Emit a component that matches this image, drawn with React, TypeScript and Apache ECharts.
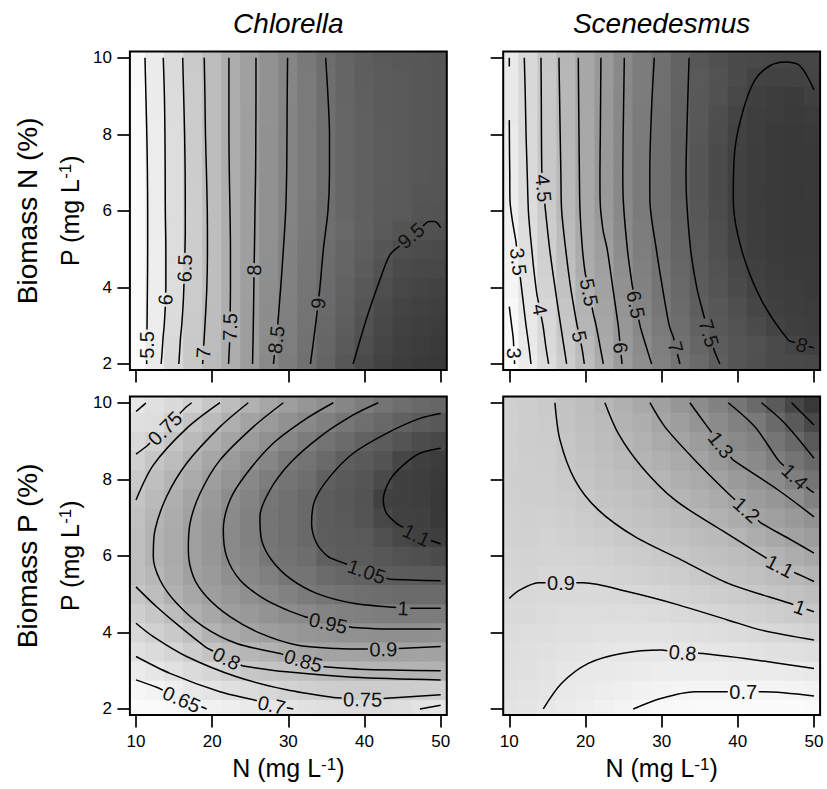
import React, { useEffect, useRef } from "react";
import * as echarts from "echarts";

const FONT = '"Liberation Sans", Arial, Helvetica, sans-serif';

// ---------------- data ----------------
const N_GRID = [10, 12.5, 15, 17.5, 20, 22.5, 25, 27.5, 30, 32.5, 35, 37.5, 40, 42.5, 45, 47.5, 50];
const P_GRID = [2, 2.5, 3, 3.5, 4, 4.5, 5, 5.5, 6, 6.5, 7, 7.5, 8, 8.5, 9, 9.5, 10];
const N_TICKS = [10, 20, 30, 40, 50];
const P_TICKS = [2, 4, 6, 8, 10];
const SPECIES = ["Chlorella", "Scenedesmus"];
const ROW_TITLES = ["Biomass N (%)", "Biomass P (%)"];

// surface values; rows follow P_GRID (2 -> 10), columns follow N_GRID (10 -> 50)
const chlorellaN_grid = [
  [5.27, 5.79, 6.37, 6.8, 7.18, 7.56, 7.95, 8.4, 8.7, 8.96, 9.19, 9.41, 9.61, 9.73, 9.81, 9.85, 9.88],
  [5.28, 5.76, 6.33, 6.78, 7.16, 7.54, 7.94, 8.36, 8.67, 8.93, 9.15, 9.35, 9.55, 9.69, 9.78, 9.82, 9.85],
  [5.29, 5.73, 6.28, 6.75, 7.14, 7.52, 7.93, 8.33, 8.64, 8.89, 9.11, 9.31, 9.5, 9.65, 9.74, 9.79, 9.82],
  [5.29, 5.72, 6.25, 6.72, 7.13, 7.52, 7.93, 8.31, 8.62, 8.87, 9.08, 9.26, 9.44, 9.6, 9.7, 9.75, 9.78],
  [5.29, 5.71, 6.23, 6.7, 7.11, 7.52, 7.92, 8.29, 8.6, 8.84, 9.06, 9.22, 9.39, 9.55, 9.66, 9.7, 9.73],
  [5.29, 5.7, 6.22, 6.69, 7.11, 7.52, 7.92, 8.27, 8.58, 8.82, 9.04, 9.19, 9.34, 9.49, 9.61, 9.64, 9.66],
  [5.29, 5.7, 6.22, 6.68, 7.1, 7.52, 7.91, 8.26, 8.56, 8.8, 9.02, 9.16, 9.29, 9.43, 9.55, 9.58, 9.6],
  [5.28, 5.71, 6.22, 6.68, 7.11, 7.52, 7.91, 8.24, 8.55, 8.78, 9.0, 9.12, 9.23, 9.35, 9.46, 9.51, 9.53],
  [5.28, 5.71, 6.22, 6.68, 7.11, 7.52, 7.91, 8.23, 8.53, 8.76, 8.99, 9.15, 9.26, 9.33, 9.37, 9.46, 9.47],
  [5.28, 5.71, 6.22, 6.68, 7.12, 7.53, 7.9, 8.23, 8.53, 8.75, 8.98, 9.15, 9.26, 9.33, 9.37, 9.43, 9.45],
  [5.29, 5.71, 6.22, 6.69, 7.13, 7.54, 7.9, 8.22, 8.52, 8.74, 8.97, 9.14, 9.25, 9.32, 9.37, 9.41, 9.44],
  [5.29, 5.72, 6.23, 6.7, 7.13, 7.54, 7.9, 8.22, 8.52, 8.74, 8.97, 9.14, 9.25, 9.32, 9.37, 9.41, 9.43],
  [5.3, 5.73, 6.23, 6.7, 7.14, 7.54, 7.9, 8.22, 8.52, 8.74, 8.97, 9.14, 9.25, 9.32, 9.37, 9.41, 9.43],
  [5.31, 5.74, 6.24, 6.71, 7.15, 7.54, 7.9, 8.21, 8.52, 8.74, 8.98, 9.15, 9.26, 9.33, 9.37, 9.41, 9.43],
  [5.31, 5.75, 6.25, 6.72, 7.15, 7.54, 7.89, 8.21, 8.51, 8.75, 8.99, 9.16, 9.27, 9.34, 9.38, 9.41, 9.43],
  [5.32, 5.76, 6.26, 6.73, 7.16, 7.54, 7.89, 8.21, 8.51, 8.75, 9.0, 9.17, 9.28, 9.34, 9.38, 9.41, 9.43],
  [5.33, 5.78, 6.28, 6.74, 7.16, 7.54, 7.89, 8.21, 8.51, 8.76, 9.01, 9.18, 9.29, 9.35, 9.39, 9.41, 9.44],
];
const scenedesmusN_grid = [
  [2.88, 3.42, 3.97, 4.49, 5.03, 5.53, 6.03, 6.35, 6.68, 7.01, 7.25, 7.49, 7.66, 7.77, 7.84, 7.88, 7.91],
  [2.9, 3.49, 4.05, 4.58, 5.11, 5.62, 6.07, 6.44, 6.77, 7.07, 7.33, 7.53, 7.64, 7.75, 7.85, 7.96, 8.03],
  [2.94, 3.57, 4.12, 4.67, 5.22, 5.69, 6.12, 6.54, 6.87, 7.15, 7.41, 7.58, 7.72, 7.85, 7.98, 8.05, 8.09],
  [3.0, 3.64, 4.21, 4.76, 5.32, 5.77, 6.2, 6.61, 6.93, 7.21, 7.48, 7.63, 7.78, 7.93, 8.04, 8.09, 8.11],
  [3.13, 3.73, 4.29, 4.86, 5.42, 5.83, 6.27, 6.67, 6.99, 7.27, 7.53, 7.68, 7.84, 8.0, 8.07, 8.11, 8.13],
  [3.18, 3.8, 4.36, 4.94, 5.52, 5.89, 6.34, 6.72, 7.03, 7.31, 7.56, 7.73, 7.9, 8.03, 8.1, 8.13, 8.14],
  [3.23, 3.87, 4.43, 5.02, 5.56, 5.95, 6.41, 6.76, 7.08, 7.36, 7.59, 7.78, 7.96, 8.07, 8.12, 8.15, 8.16],
  [3.29, 3.94, 4.49, 5.08, 5.6, 6.03, 6.45, 6.8, 7.11, 7.38, 7.61, 7.8, 8.0, 8.08, 8.13, 8.16, 8.16],
  [3.35, 4.0, 4.56, 5.13, 5.63, 6.07, 6.49, 6.84, 7.14, 7.4, 7.63, 7.83, 8.01, 8.09, 8.14, 8.16, 8.16],
  [3.4, 4.03, 4.61, 5.15, 5.64, 6.1, 6.51, 6.86, 7.16, 7.42, 7.64, 7.84, 8.02, 8.1, 8.14, 8.17, 8.16],
  [3.42, 4.05, 4.65, 5.17, 5.65, 6.1, 6.51, 6.87, 7.16, 7.43, 7.64, 7.84, 8.01, 8.09, 8.14, 8.16, 8.16],
  [3.45, 4.07, 4.66, 5.18, 5.65, 6.1, 6.51, 6.86, 7.16, 7.42, 7.64, 7.84, 8.01, 8.09, 8.14, 8.16, 8.16],
  [3.48, 4.09, 4.67, 5.19, 5.65, 6.09, 6.51, 6.85, 7.15, 7.42, 7.63, 7.81, 8.0, 8.07, 8.13, 8.15, 8.13],
  [3.53, 4.11, 4.68, 5.2, 5.65, 6.09, 6.5, 6.84, 7.14, 7.41, 7.61, 7.79, 7.96, 8.06, 8.11, 8.14, 8.1],
  [3.55, 4.12, 4.69, 5.21, 5.66, 6.08, 6.5, 6.83, 7.13, 7.4, 7.6, 7.75, 7.91, 8.03, 8.09, 8.12, 8.04],
  [3.55, 4.13, 4.69, 5.21, 5.66, 6.08, 6.49, 6.82, 7.12, 7.39, 7.58, 7.72, 7.85, 7.99, 8.0, 8.0, 7.97],
  [3.52, 4.15, 4.7, 5.22, 5.66, 6.08, 6.48, 6.81, 7.11, 7.38, 7.62, 7.76, 7.84, 7.89, 7.91, 7.93, 7.94],
];
const chlorellaP_grid = [
  [0.618, 0.621, 0.629, 0.641, 0.653, 0.664, 0.675, 0.686, 0.697, 0.707, 0.715, 0.721, 0.724, 0.723, 0.717, 0.7, 0.69],
  [0.634, 0.644, 0.664, 0.682, 0.698, 0.712, 0.725, 0.738, 0.751, 0.759, 0.765, 0.77, 0.772, 0.771, 0.77, 0.769, 0.767],
  [0.67, 0.689, 0.708, 0.725, 0.741, 0.764, 0.786, 0.796, 0.804, 0.812, 0.827, 0.835, 0.841, 0.844, 0.846, 0.848, 0.85],
  [0.708, 0.726, 0.745, 0.768, 0.797, 0.822, 0.838, 0.849, 0.866, 0.882, 0.89, 0.892, 0.893, 0.894, 0.893, 0.891, 0.89],
  [0.736, 0.758, 0.781, 0.812, 0.847, 0.868, 0.888, 0.906, 0.916, 0.924, 0.931, 0.936, 0.939, 0.941, 0.941, 0.941, 0.94],
  [0.764, 0.787, 0.819, 0.856, 0.88, 0.904, 0.918, 0.933, 0.946, 0.957, 0.968, 0.976, 0.981, 0.985, 0.988, 0.988, 0.988],
  [0.79, 0.815, 0.854, 0.879, 0.905, 0.922, 0.942, 0.958, 0.974, 0.99, 1.002, 1.01, 1.016, 1.021, 1.025, 1.025, 1.026],
  [0.811, 0.837, 0.866, 0.9, 0.915, 0.941, 0.959, 0.979, 1.001, 1.006, 1.025, 1.035, 1.044, 1.052, 1.055, 1.056, 1.058],
  [0.813, 0.851, 0.871, 0.903, 0.922, 0.953, 0.969, 1.0, 1.01, 1.021, 1.048, 1.054, 1.057, 1.065, 1.073, 1.078, 1.084],
  [0.812, 0.85, 0.871, 0.903, 0.925, 0.956, 0.975, 1.004, 1.016, 1.029, 1.052, 1.056, 1.061, 1.077, 1.091, 1.1, 1.105],
  [0.81, 0.841, 0.867, 0.901, 0.922, 0.955, 0.976, 1.004, 1.017, 1.031, 1.054, 1.061, 1.069, 1.09, 1.101, 1.103, 1.113],
  [0.798, 0.828, 0.859, 0.888, 0.916, 0.95, 0.969, 1.001, 1.014, 1.029, 1.054, 1.062, 1.071, 1.1, 1.102, 1.105, 1.115],
  [0.778, 0.813, 0.844, 0.872, 0.904, 0.931, 0.958, 0.986, 1.007, 1.02, 1.047, 1.058, 1.068, 1.086, 1.102, 1.105, 1.112],
  [0.758, 0.794, 0.822, 0.854, 0.884, 0.912, 0.938, 0.964, 0.992, 1.009, 1.028, 1.049, 1.059, 1.071, 1.093, 1.102, 1.108],
  [0.734, 0.756, 0.797, 0.827, 0.858, 0.888, 0.914, 0.94, 0.964, 0.989, 1.009, 1.026, 1.043, 1.055, 1.069, 1.083, 1.09],
  [0.712, 0.72, 0.756, 0.797, 0.825, 0.857, 0.89, 0.912, 0.937, 0.957, 0.979, 1.002, 1.017, 1.032, 1.045, 1.056, 1.062],
  [0.69, 0.71, 0.731, 0.753, 0.786, 0.82, 0.853, 0.88, 0.905, 0.924, 0.943, 0.964, 0.985, 1.005, 1.02, 1.03, 1.036],
];
const scenedesmusP_grid = [
  [0.828, 0.814, 0.796, 0.775, 0.752, 0.731, 0.711, 0.694, 0.681, 0.673, 0.667, 0.665, 0.663, 0.661, 0.661, 0.663, 0.665],
  [0.84, 0.826, 0.811, 0.79, 0.775, 0.758, 0.743, 0.729, 0.717, 0.711, 0.705, 0.705, 0.706, 0.706, 0.71, 0.716, 0.723],
  [0.851, 0.838, 0.827, 0.809, 0.795, 0.786, 0.778, 0.765, 0.757, 0.757, 0.755, 0.758, 0.762, 0.767, 0.774, 0.782, 0.79],
  [0.862, 0.852, 0.843, 0.829, 0.817, 0.81, 0.803, 0.8, 0.797, 0.802, 0.804, 0.81, 0.817, 0.827, 0.838, 0.848, 0.86],
  [0.874, 0.866, 0.859, 0.849, 0.84, 0.837, 0.833, 0.834, 0.836, 0.843, 0.85, 0.86, 0.873, 0.888, 0.901, 0.913, 0.927],
  [0.887, 0.882, 0.875, 0.868, 0.863, 0.863, 0.864, 0.868, 0.874, 0.884, 0.896, 0.91, 0.927, 0.943, 0.958, 0.974, 0.995],
  [0.899, 0.9, 0.891, 0.889, 0.887, 0.89, 0.895, 0.903, 0.913, 0.926, 0.942, 0.96, 0.979, 0.996, 1.013, 1.034, 1.058],
  [0.919, 0.921, 0.907, 0.907, 0.91, 0.917, 0.926, 0.938, 0.951, 0.967, 0.986, 1.007, 1.025, 1.044, 1.068, 1.093, 1.124],
  [0.924, 0.928, 0.92, 0.922, 0.931, 0.943, 0.956, 0.972, 0.989, 1.007, 1.026, 1.046, 1.067, 1.091, 1.124, 1.155, 1.19],
  [0.935, 0.94, 0.931, 0.938, 0.952, 0.97, 0.987, 1.006, 1.022, 1.042, 1.062, 1.084, 1.11, 1.147, 1.183, 1.214, 1.245],
  [0.941, 0.948, 0.941, 0.953, 0.974, 0.996, 1.013, 1.032, 1.052, 1.075, 1.097, 1.125, 1.161, 1.204, 1.232, 1.261, 1.298],
  [0.945, 0.954, 0.95, 0.968, 0.995, 1.018, 1.035, 1.059, 1.082, 1.109, 1.136, 1.168, 1.209, 1.247, 1.277, 1.316, 1.381],
  [0.95, 0.96, 0.958, 0.983, 1.013, 1.036, 1.057, 1.084, 1.112, 1.142, 1.173, 1.211, 1.257, 1.292, 1.331, 1.39, 1.439],
  [0.949, 0.961, 0.964, 0.998, 1.027, 1.05, 1.079, 1.109, 1.141, 1.174, 1.21, 1.258, 1.307, 1.337, 1.39, 1.439, 1.494],
  [0.95, 0.964, 0.971, 1.01, 1.04, 1.063, 1.1, 1.131, 1.17, 1.206, 1.25, 1.302, 1.343, 1.377, 1.437, 1.487, 1.552],
  [0.948, 0.963, 0.975, 1.019, 1.05, 1.075, 1.119, 1.151, 1.2, 1.236, 1.289, 1.334, 1.379, 1.417, 1.483, 1.546, 1.609],
  [0.95, 0.965, 0.982, 1.023, 1.061, 1.099, 1.141, 1.184, 1.229, 1.277, 1.326, 1.375, 1.429, 1.486, 1.548, 1.611, 1.66],
];

type Contour = { level: number; points: number[][]; labels: number[][] };

// contour lines, [N, P] points; labels = where the level label sits on the line
const chlorellaN_contours: Contour[] = [
  { level: 5.5, points: [[11.4, 2], [11.42, 2.5], [11.45, 3], [11.5, 4], [11.53, 5], [11.53, 6], [11.5, 7], [11.42, 8], [11.3, 9], [11.18, 10]], labels: [[11.42, 2.5]] },
  { level: 6, points: [[13.3, 2], [13.42, 2.3], [13.56, 2.7], [13.7, 3], [13.85, 3.5], [13.92, 4], [13.92, 5], [13.85, 6], [13.83, 7], [13.8, 8], [13.73, 9], [13.58, 10]], labels: [[13.88, 3.68]] },
  { level: 6.5, points: [[15.62, 2], [15.72, 2.3], [15.85, 2.7], [16, 3], [16.2, 3.6], [16.38, 4.5], [16.47, 5.5], [16.47, 6], [16.45, 7], [16.38, 8], [16.26, 9], [16.13, 10]], labels: [[16.38, 4.5]] },
  { level: 7, points: [[18.75, 2], [18.83, 2.29], [19.05, 3], [19.3, 4], [19.38, 5], [19.36, 6], [19.25, 7], [19.12, 8], [19.05, 9], [18.96, 10]], labels: [[18.83, 2.29]] },
  { level: 7.5, points: [[22.15, 2], [22.3, 2.6], [22.35, 3], [22.4, 4], [22.4, 5], [22.34, 6], [22.25, 7], [22.2, 8], [22.2, 9], [22.2, 10]], labels: [[22.34, 2.97]] },
  { level: 8, points: [[25.3, 2], [25.4, 3], [25.5, 4.45], [25.55, 5], [25.62, 6], [25.7, 7], [25.73, 8], [25.75, 9], [25.75, 10]], labels: [[25.5, 4.45]] },
  { level: 8.5, points: [[28.05, 2], [28.2, 2.3], [28.4, 2.63], [28.6, 3], [28.9, 3.76], [29, 4], [29.35, 5], [29.65, 6], [29.78, 7], [29.82, 8], [29.85, 9], [29.9, 10]], labels: [[28.4, 2.63]] },
  { level: 9, points: [[32.9, 2], [33.3, 2.6], [33.9, 3.55], [34.15, 4], [34.6, 5], [35.2, 6], [35.4, 7], [35.4, 8], [35.2, 9], [34.9, 10]], labels: [[33.93, 3.58]] },
  { level: 9.5, points: [[38.5, 2], [40.35, 3.24], [42, 4.19], [43.33, 4.85], [44.7, 5.1], [46.1, 5.35], [47.5, 5.58], [48.5, 5.72], [49.2, 5.72], [50, 5.56]], labels: [[46.1, 5.35]] },
];

const scenedesmusN_contours: Contour[] = [
  { level: 3, points: [[10, 3.5], [10.25, 3.1], [10.52, 2.67], [10.63, 2.28], [10.7, 2]], labels: [[10.63, 2.28]] },
  { level: 3.5, points: [[10, 10], [10, 9.77]], labels: [] },
  { level: 3.5, points: [[10, 8.37], [10.03, 7.5], [10.06, 7], [10.09, 6.28], [10.4, 5.75], [10.84, 5.24], [11.19, 4.67], [11.54, 4.1], [11.9, 3.5], [12.2, 3], [12.55, 2.5], [12.85, 2]], labels: [[11.19, 4.67]] },
  { level: 4, points: [[11.97, 10], [12.1, 9], [12.2, 8], [12.35, 7], [12.5, 6.02], [12.7, 5.5], [12.95, 5], [13.2, 4.5], [13.6, 3.85], [14.02, 3.42], [14.44, 2.98], [14.8, 2.45], [15.16, 2]], labels: [[14.02, 3.42]] },
  { level: 4.5, points: [[14.16, 10], [14.2, 9], [14.22, 8], [14.26, 7.07], [14.48, 6.59], [14.7, 6.1], [15.3, 5], [16, 4], [16.75, 3], [17.53, 2]], labels: [[14.48, 6.59]] },
  { level: 5, points: [[16.52, 10], [16.6, 9], [16.68, 8], [16.77, 7], [16.87, 6.02], [17.4, 5], [18.05, 4], [18.85, 3.06], [19.22, 2.72], [19.58, 2.37], [19.85, 2]], labels: [[19.22, 2.72]] },
  { level: 5.5, points: [[19.06, 10], [19.1, 9], [19.15, 8], [19.2, 7], [19.28, 6.02], [19.6, 5], [19.93, 4.41], [20.48, 3.87], [21.02, 3.32], [21.4, 3], [22.34, 2]], labels: [[20.48, 3.87]] },
  { level: 6, points: [[22.03, 10], [21.95, 8], [21.9, 7], [21.92, 6.28], [22.3, 5.5], [22.85, 5], [23.58, 4], [24.3, 3], [24.55, 2.5], [24.8, 2]], labels: [[24.58, 2.42]] },
  { level: 6.5, points: [[25.1, 10], [24.95, 8], [24.9, 7], [24.96, 6.28], [25.5, 5], [26.1, 4.1], [26.6, 3.55], [27.2, 2.97], [27.9, 2.5], [28.69, 2]], labels: [[26.6, 3.55]] },
  { level: 7, points: [[29.03, 10], [28.75, 9], [28.55, 8], [28.45, 7], [28.46, 6.28], [29.3, 5], [30.1, 4], [31, 3], [31.52, 2.71], [31.9, 2.4], [32.4, 2]], labels: [[31.85, 2.44]] },
  { level: 7.5, points: [[33.6, 10], [33.3, 8], [33.2, 7], [33.28, 6.28], [33.8, 5], [34.6, 4], [35.46, 3.32], [36.2, 2.8], [37, 2.3], [37.65, 2]], labels: [[36.2, 2.8]] },
  { level: 8, points: [[50, 9.16], [48.15, 9.79], [46.2, 9.89], [44.2, 9.79], [42.25, 9.42], [40.7, 8.63], [39.6, 7.58], [39.4, 6.28], [40.5, 4.98], [43.1, 3.67], [46.6, 2.63], [48.4, 2.5], [50, 2.42]], labels: [[48.4, 2.5]] },
];

const chlorellaP_contours: Contour[] = [
  { level: 1.1, points: [[50, 8.81], [47.27, 8.68], [45.08, 8.37], [43.33, 7.98], [42.46, 7.46], [42.9, 7.11], [44.2, 6.85], [46.83, 6.54], [50, 6.31]], labels: [[46.83, 6.54]] },
  { level: 1.05, points: [[50, 9.72], [47.27, 9.59], [42.9, 9.2], [38.52, 8.68], [35.46, 8.07], [33.49, 7.46], [33.05, 6.85], [33.71, 6.33], [35.24, 5.98], [36.77, 5.85], [40.27, 5.59], [43.33, 5.39], [50, 5.35]], labels: [[40.27, 5.59]] },
  { level: 1, points: [[41.8, 10], [38.52, 9.68], [34.15, 9.11], [30.21, 8.42], [27.59, 7.72], [26.27, 7.02], [26.49, 6.41], [27.8, 5.89], [30.21, 5.41], [33.71, 5.02], [38.52, 4.76], [43.55, 4.66], [45.08, 4.63], [50, 4.63]], labels: [[45.08, 4.63]] },
  { level: 0.95, points: [[35.9, 10], [32.4, 9.59], [28.02, 8.94], [24.52, 8.15], [22.34, 7.46], [21.46, 6.67], [21.9, 5.98], [23.65, 5.37], [26.71, 4.89], [29.77, 4.59], [32.18, 4.41], [35.24, 4.24], [38.52, 4.13], [42.9, 4.09], [50, 4.09]], labels: [[35.24, 4.24]] },
  { level: 0.9, points: [[29.34, 10], [25.4, 9.37], [21.02, 8.5], [18.4, 7.63], [17.09, 6.85], [16.87, 6.15], [17.52, 5.46], [19.27, 4.93], [22.34, 4.41], [26.27, 3.98], [31.09, 3.67], [36.33, 3.58], [42.46, 3.56], [50, 3.63]], labels: [[42.46, 3.56]] },
  { level: 0.85, points: [[24.74, 10], [21.02, 9.37], [16.65, 8.42], [14.02, 7.55], [12.49, 6.67], [12.27, 5.98], [13.15, 5.37], [15.34, 4.76], [18.84, 4.15], [23.21, 3.71], [28.9, 3.45], [31.96, 3.26], [34.8, 3.1], [39.4, 3.04], [50, 3.0]], labels: [[31.96, 3.26]] },
  { level: 0.8, points: [[21.02, 10], [16.65, 9.33], [12.27, 8.37], [10, 7.46]], labels: [] },
  { level: 0.8, points: [[10, 5.19], [12.71, 4.67], [15.77, 4.15], [19.06, 3.63], [21.9, 3.32], [24.09, 3.12], [29.77, 2.97], [38.52, 2.83], [50, 2.76]], labels: [[21.9, 3.32]] },
  { level: 0.75, points: [[10, 8.66], [11.31, 8.85], [13.81, 9.33], [16.56, 9.88], [17.3, 10]], labels: [[13.81, 9.33]] },
  { level: 0.75, points: [[10, 4.24], [12.27, 3.89], [16.65, 3.37], [23.21, 2.84], [29.77, 2.5], [35.9, 2.3], [39.75, 2.25], [42.9, 2.28], [50, 2.37]], labels: [[39.75, 2.25]] },
  { level: 0.7, points: [[10, 9.77], [11.18, 9.97], [11.27, 10]], labels: [] },
  { level: 0.7, points: [[10, 3.37], [14.46, 2.93], [21.02, 2.45], [25.4, 2.24], [27.8, 2.1], [30.65, 2]], labels: [[27.8, 2.1]] },
  { level: 0.7, points: [[47.27, 2], [50, 2.1]], labels: [] },
  { level: 0.65, points: [[10, 2.76], [12.8, 2.56], [15.99, 2.25], [19.05, 2.02], [19.27, 2]], labels: [[15.99, 2.25]] },
];

const scenedesmusP_contours: Contour[] = [
  { level: 0.7, points: [[26.27, 2], [29.99, 2.28], [34.37, 2.45], [37.87, 2.45], [40.71, 2.45], [43.33, 2.45], [50, 2.34]], labels: [[40.71, 2.45]] },
  { level: 0.8, points: [[14.46, 2], [16.87, 2.67], [20.37, 3.19], [24.74, 3.45], [29.99, 3.54], [32.75, 3.47], [35.46, 3.45], [40.93, 3.32], [50, 3.06]], labels: [[32.75, 3.47]] },
  { level: 0.9, points: [[10, 4.89], [11.4, 5.11], [13.81, 5.3], [16.78, 5.3], [19.71, 5.3], [25.62, 5.06], [32.18, 4.72], [38.74, 4.32], [43.11, 4.06], [50, 3.8]], labels: [[16.78, 5.3]] },
  { level: 1, points: [[15.99, 10], [16.65, 9.03], [18.62, 7.98], [21.68, 7.2], [26.49, 6.5], [32.62, 5.89], [38.74, 5.28], [46.83, 4.76], [48.15, 4.66], [50, 4.54]], labels: [[48.15, 4.66]] },
  { level: 1.1, points: [[22.55, 10], [24.3, 9.2], [27.37, 8.33], [31.74, 7.46], [37.87, 6.67], [42.68, 6.07], [45.52, 5.73], [47.71, 5.54], [50, 5.33]], labels: [[45.52, 5.73]] },
  { level: 1.2, points: [[28.46, 10], [30.43, 9.37], [34.37, 8.5], [38.74, 7.63], [41.15, 7.2], [43.11, 6.85], [47.05, 6.41], [50, 6.07]], labels: [[41.15, 7.2]] },
  { level: 1.3, points: [[33.71, 10], [35.68, 9.46], [37.78, 8.9], [39.4, 8.5], [45.3, 7.72], [50, 7.02]], labels: [[37.78, 8.9]] },
  { level: 1.4, points: [[38.74, 10], [42.24, 9.37], [45.3, 8.5], [47.49, 8.07], [49.46, 7.72], [50, 7.65]], labels: [[47.49, 8.07]] },
  { level: 1.5, points: [[43.11, 10], [46.18, 9.46], [50, 8.55]], labels: [] },
  { level: 1.6, points: [[47.05, 10], [50, 9.42]], labels: [] },
];

const PANELS = [
  { grid: chlorellaN_grid, contours: chlorellaN_contours, col: 0, row: 0 },
  { grid: scenedesmusN_grid, contours: scenedesmusN_contours, col: 1, row: 0 },
  { grid: chlorellaP_grid, contours: chlorellaP_contours, col: 0, row: 1 },
  { grid: scenedesmusP_grid, contours: scenedesmusP_contours, col: 1, row: 1 },
];

// ---------------- layout / style ----------------
const PANEL_LEFT = [129.9, 503.2];
const PANEL_TOP = [51.6, 396.6];
const PANEL_W = 316.9;
const PANEL_H = 318.5;
const X_MIN = 9.2;
const X_MAX = 50.8;
const Y_MIN = 1.84;
const Y_MAX = 10.16;
const LABEL_FONT_SIZE = 20;
const LABEL_PAD = 1.5;

const GRAY_LIGHT = 0.985;
const GRAY_DARK = 0.22;
const GAMMA = 1.6;
const GRAY_STOPS = Array.from({ length: 13 }, (_, i) => {
  const t = i / 12;
  const g = Math.pow(Math.pow(GRAY_LIGHT, GAMMA) * (1 - t) + Math.pow(GRAY_DARK, GAMMA) * t, 1 / GAMMA);
  const v = Math.round(g * 255);
  return `rgb(${v},${v},${v})`;
});

const RICH = {
  a: { fontSize: 25, fontFamily: FONT, fill: "#000" },
  s: { fontSize: 17, fontFamily: FONT, fill: "#000", verticalAlign: "top" },
};

function splitContours(
  contours: Contour[],
  toPx: (p: number[]) => number[],
  measure: (s: string) => number
) {
  const pieces: number[][][] = [];
  const labels: { pos: number[]; angle: number; text: string }[] = [];
  for (const c of contours) {
    const pts = c.points;
    const px = pts.map(toPx);
    const cum: number[] = [0];
    for (let i = 1; i < px.length; i++) {
      cum.push(cum[i - 1] + Math.hypot(px[i][0] - px[i - 1][0], px[i][1] - px[i - 1][1]));
    }
    const total = cum[cum.length - 1];
    const locate = (s: number) => {
      let i = 0;
      while (i < cum.length - 2 && cum[i + 1] < s) i++;
      const len = cum[i + 1] - cum[i];
      const t = len > 0 ? Math.min(1, Math.max(0, (s - cum[i]) / len)) : 0;
      return { i, t };
    };
    const dataAt = (s: number) => {
      const { i, t } = locate(s);
      return [pts[i][0] + t * (pts[i + 1][0] - pts[i][0]), pts[i][1] + t * (pts[i + 1][1] - pts[i][1])];
    };
    const pxAt = (s: number) => {
      const { i, t } = locate(s);
      return [px[i][0] + t * (px[i + 1][0] - px[i][0]), px[i][1] + t * (px[i + 1][1] - px[i][1])];
    };
    const gaps: number[][] = [];
    for (const lab of c.labels) {
      const lp = toPx(lab);
      let bestD = Infinity;
      let bestS = 0;
      for (let i = 0; i < px.length - 1; i++) {
        const ax = px[i][0], ay = px[i][1];
        const dx = px[i + 1][0] - ax, dy = px[i + 1][1] - ay;
        const L2 = dx * dx + dy * dy;
        let t = L2 > 0 ? ((lp[0] - ax) * dx + (lp[1] - ay) * dy) / L2 : 0;
        t = Math.max(0, Math.min(1, t));
        const d = Math.hypot(lp[0] - (ax + t * dx), lp[1] - (ay + t * dy));
        if (d < bestD) {
          bestD = d;
          bestS = cum[i] + t * Math.sqrt(L2);
        }
      }
      const text = String(c.level);
      const half = measure(text) / 2 + LABEL_PAD;
      const s1 = Math.max(0, bestS - half);
      const s2 = Math.min(total, bestS + half);
      gaps.push([s1, s2]);
      const a = pxAt(s1), b = pxAt(s2);
      let ang = Math.atan2(-(b[1] - a[1]), b[0] - a[0]);
      if (ang > Math.PI / 2) ang -= Math.PI;
      if (ang < -Math.PI / 2) ang += Math.PI;
      labels.push({ pos: dataAt(bestS), angle: ang, text });
    }
    gaps.sort((u, v) => u[0] - v[0]);
    const spans: number[][] = [];
    let start = 0;
    for (const [g1, g2] of gaps) {
      if (g1 > start) spans.push([start, g1]);
      start = Math.max(start, g2);
    }
    if (start < total) spans.push([start, total]);
    for (const [a, b] of spans) {
      if (b - a < 1) continue;
      const piece = [dataAt(a)];
      for (let i = 0; i < pts.length; i++) {
        if (cum[i] > a + 1e-6 && cum[i] < b - 1e-6) piece.push(pts[i]);
      }
      piece.push(dataAt(b));
      pieces.push(piece);
    }
  }
  return { pieces, labels };
}

export default function App() {
  const ref = useRef<HTMLDivElement>(null);

  useEffect(() => {
    document.body.style.margin = "0";
    const chart = echarts.init(ref.current as HTMLDivElement, null, { renderer: "svg" });

    const grid = PANELS.map((p) => ({
      left: PANEL_LEFT[p.col],
      top: PANEL_TOP[p.row],
      width: PANEL_W,
      height: PANEL_H,
      outerBoundsMode: "none",
    }));
    const xAxis = PANELS.map((p, i) => ({
      type: "value",
      gridIndex: i,
      min: X_MIN,
      max: X_MAX,
      axisLine: { show: false },
      splitLine: { show: false },
      axisTick: { show: true, length: 12.5, lineStyle: { color: "#000", width: 1.7 }, customValues: N_TICKS },
      axisLabel: {
        show: p.row === 1,
        customValues: N_TICKS,
        margin: 17.5,
        fontSize: 17,
        fontFamily: FONT,
        color: "#000",
      },
    }));
    const yAxis = PANELS.map((p, i) => ({
      type: "value",
      gridIndex: i,
      min: Y_MIN,
      max: Y_MAX,
      axisLine: { show: false },
      splitLine: { show: false },
      axisTick: { show: true, length: 12.5, lineStyle: { color: "#000", width: 1.7 }, customValues: P_TICKS },
      axisLabel: {
        show: p.col === 0,
        customValues: P_TICKS,
        margin: 18,
        fontSize: 17,
        fontFamily: FONT,
        color: "#000",
      },
    }));

    chart.setOption({ animation: false, grid, xAxis, yAxis });

    const canvas = document.createElement("canvas");
    const ctx = canvas.getContext("2d") as CanvasRenderingContext2D;
    ctx.font = `${LABEL_FONT_SIZE}px ${FONT}`;
    const measure = (s: string) => ctx.measureText(s).width;

    const halfN = (N_GRID[1] - N_GRID[0]) / 2;
    const halfP = (P_GRID[1] - P_GRID[0]) / 2;

    const series: any[] = [];
    const visualMap: any[] = [];

    PANELS.forEach((p, i) => {
      const data: number[][] = [];
      p.grid.forEach((row, r) => row.forEach((z, c) => data.push([N_GRID[c], P_GRID[r], z])));
      const flat = p.grid.flat();
      visualMap.push({
        type: "continuous",
        show: false,
        seriesIndex: i,
        dimension: 2,
        min: Math.min(...flat),
        max: Math.max(...flat),
        inRange: { color: GRAY_STOPS },
      });
      series.push({
        type: "custom",
        xAxisIndex: i,
        yAxisIndex: i,
        silent: true,
        z: 1,
        dimensions: ["N", "P", "z"],
        encode: { x: 0, y: 1 },
        data,
        renderItem: (params: any, api: any) => {
          const n = api.value(0);
          const pp = api.value(1);
          const a = api.coord([n - halfN, pp + halfP]);
          const b = api.coord([n + halfN, pp - halfP]);
          const cs = params.coordSys;
          const shape = echarts.graphic.clipRectByRect(
            { x: a[0] - 0.5, y: a[1] - 0.5, width: b[0] - a[0] + 1, height: b[1] - a[1] + 1 },
            { x: cs.x, y: cs.y, width: cs.width, height: cs.height }
          );
          if (!shape) return null;
          return { type: "rect", shape, style: { fill: api.visual("color") } };
        },
      });
    });

    PANELS.forEach((p, i) => {
      const toPx = (pt: number[]) => chart.convertToPixel({ gridIndex: i }, pt) as unknown as number[];
      const { pieces, labels } = splitContours(p.contours, toPx, measure);
      pieces.forEach((pc) => {
        series.push({
          type: "line",
          xAxisIndex: i,
          yAxisIndex: i,
          data: pc,
          symbol: "none",
          showSymbol: false,
          smooth: 0.3,
          silent: true,
          z: 2,
          lineStyle: { color: "#000", width: 1.5 },
        });
      });
      series.push({
        type: "custom",
        xAxisIndex: i,
        yAxisIndex: i,
        silent: true,
        z: 3,
        encode: { x: 0, y: 1 },
        data: labels.map((l) => l.pos),
        renderItem: (params: any, api: any) => {
          const c = api.coord([api.value(0), api.value(1)]);
          const l = labels[params.dataIndex];
          return {
            type: "text",
            x: c[0],
            y: c[1],
            rotation: l.angle,
            style: {
              text: l.text,
              fontSize: LABEL_FONT_SIZE,
              fontFamily: FONT,
              fill: "#111",
              align: "center",
              verticalAlign: "middle",
            },
          };
        },
      });
    });

    const graphic: any[] = [];
    PANELS.forEach((p) => {
      graphic.push({
        type: "rect",
        z: 100,
        silent: true,
        shape: { x: PANEL_LEFT[p.col], y: PANEL_TOP[p.row], width: PANEL_W, height: PANEL_H },
        style: { fill: "none", stroke: "#000", lineWidth: 2 },
      });
    });
    SPECIES.forEach((s, col) => {
      graphic.push({
        type: "text",
        x: PANEL_LEFT[col] + PANEL_W / 2,
        y: 23.3,
        style: { text: s, fontSize: 28, fontStyle: "italic", fontFamily: FONT, fill: "#000", align: "center", verticalAlign: "middle" },
      });
      graphic.push({
        type: "text",
        x: PANEL_LEFT[col] + PANEL_W / 2,
        y: 768,
        style: { text: "{a|N (mg L}{s|-1}{a|)}", rich: RICH, align: "center", verticalAlign: "middle" },
      });
    });
    ROW_TITLES.forEach((s, row) => {
      const cy = PANEL_TOP[row] + PANEL_H / 2;
      graphic.push({
        type: "text",
        x: 27.6,
        y: cy,
        rotation: Math.PI / 2,
        style: { text: s, fontSize: 28, fontFamily: FONT, fill: "#000", align: "center", verticalAlign: "middle" },
      });
      graphic.push({
        type: "text",
        x: 69.6,
        y: cy,
        rotation: Math.PI / 2,
        style: { text: "{a|P (mg L}{s|-1}{a|)}", rich: RICH, align: "center", verticalAlign: "middle" },
      });
    });

    chart.setOption({ series, visualMap, graphic });

    return () => chart.dispose();
  }, []);

  return <div ref={ref} style={{ width: 827, height: 789 }} />;
}
